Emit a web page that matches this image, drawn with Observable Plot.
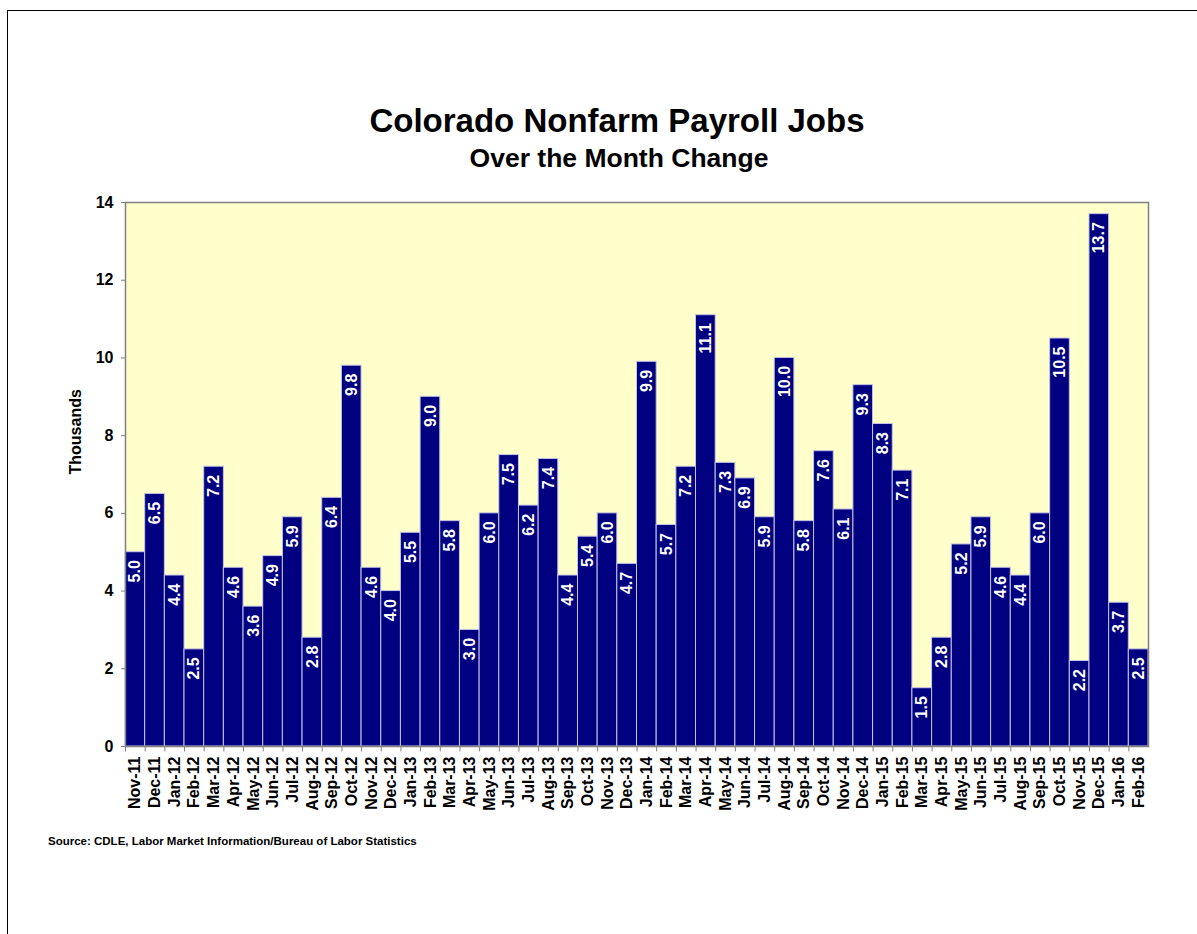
<!DOCTYPE html>
<html>
<head>
<meta charset="utf-8">
<script src="https://cdn.jsdelivr.net/npm/d3@7"></script>
<script src="https://cdn.jsdelivr.net/npm/@observablehq/plot@0.6"></script>
<style>
  html, body { margin: 0; padding: 0; background: #fff; }
  #page { position: relative; width: 1197px; height: 934px; overflow: hidden; font-family: "Liberation Sans", Arial, sans-serif; }
  #border { position: absolute; left: 7px; top: 10px; width: 1300px; height: 1000px; border-left: 1.5px solid #000; border-top: 1.5px solid #000; box-sizing: border-box; }
  #title { position: absolute; left: 0; width: 1234px; top: 104px; text-align: center; font-weight: bold; font-size: 33px; line-height: 1; color: #000; }
  #subtitle { position: absolute; left: 0; width: 1238px; top: 145px; text-align: center; font-weight: bold; font-size: 26.5px; line-height: 1; color: #000; }
  #chart { position: absolute; left: 0; top: 190px; }
  #source { position: absolute; left: 48px; top: 835px; font-weight: bold; font-size: 11.5px; color: #000; }
</style>
</head>
<body>
<div id="page">
  <div id="border"></div>
  <div id="title">Colorado Nonfarm Payroll Jobs</div>
  <div id="subtitle">Over the Month Change</div>
  <div id="chart"></div>
  <div id="source">Source: CDLE, Labor Market Information/Bureau of Labor Statistics</div>
</div>
<script>
const months = [
  "Nov-11","Dec-11",
  "Jan-12","Feb-12","Mar-12","Apr-12","May-12","Jun-12","Jul-12","Aug-12","Sep-12","Oct-12","Nov-12","Dec-12",
  "Jan-13","Feb-13","Mar-13","Apr-13","May-13","Jun-13","Jul-13","Aug-13","Sep-13","Oct-13","Nov-13","Dec-13",
  "Jan-14","Feb-14","Mar-14","Apr-14","May-14","Jun-14","Jul-14","Aug-14","Sep-14","Oct-14","Nov-14","Dec-14",
  "Jan-15","Feb-15","Mar-15","Apr-15","May-15","Jun-15","Jul-15","Aug-15","Sep-15","Oct-15","Nov-15","Dec-15",
  "Jan-16","Feb-16"
];
const jobsChange = [
  5.0, 6.5,
  4.4, 2.5, 7.2, 4.6, 3.6, 4.9, 5.9, 2.8, 6.4, 9.8, 4.6, 4.0,
  5.5, 9.0, 5.8, 3.0, 6.0, 7.5, 6.2, 7.4, 4.4, 5.4, 6.0, 4.7,
  9.9, 5.7, 7.2, 11.1, 7.3, 6.9, 5.9, 10.0, 5.8, 7.6, 6.1, 9.3,
  8.3, 7.1, 1.5, 2.8, 5.2, 5.9, 4.6, 4.4, 6.0, 10.5, 2.2, 13.7,
  3.7, 2.5
];
const yTicks = [0, 2, 4, 6, 8, 10, 12, 14];

const data = months.map((m, i) => ({month: m, value: jobsChange[i]}));

const W = 1197, H = 636;
const mL = 125, mR = 49, mT = 12, mB = 80;
const bw = (W - mL - mR) / months.length;

const chart = Plot.plot({
  width: W,
  height: H,
  marginLeft: mL,
  marginRight: mR,
  marginTop: mT,
  marginBottom: mB,
  style: {fontFamily: "'Liberation Sans', Arial, sans-serif", fontWeight: "bold", color: "#000", background: "transparent"},
  x: {domain: months, padding: 0, label: null},
  y: {domain: [0, 14], label: null},
  marks: [
    Plot.frame({fill: "#FFFFCC", stroke: null}),
    Plot.barY(data, {x: "month", y: "value", fill: "#000080", stroke: "#c4c4e4", strokeWidth: 1}),
    Plot.text(data, {
      x: "month", y: "value", text: d => d.value.toFixed(1),
      rotate: -90, textAnchor: "end", lineAnchor: "middle",
      dy: 8, fill: "#fff", fontSize: 16, fontWeight: "bold"
    }),
    Plot.frame({stroke: "#808080", strokeWidth: 1.5}),
    Plot.axisY({ticks: yTicks, tickSize: 4, tickPadding: 8, fontSize: 16, stroke: "#808080", fill: "#000", label: null}),
    Plot.text(["Thousands"], {frameAnchor: "left", dx: -50, rotate: -90, fontSize: 16, fontWeight: "bold", fill: "#000"}),
    Plot.ruleX(months, {x: d => d, dx: -bw / 2, y1: 0, y2: -0.14, stroke: "#808080", strokeWidth: 1}),
    Plot.axisX({tickSize: 0, tickPadding: 10, tickRotate: -90, fontSize: 16, fill: "#000", label: null})
  ]
});
document.getElementById("chart").appendChild(chart);
</script>
</body>
</html>
